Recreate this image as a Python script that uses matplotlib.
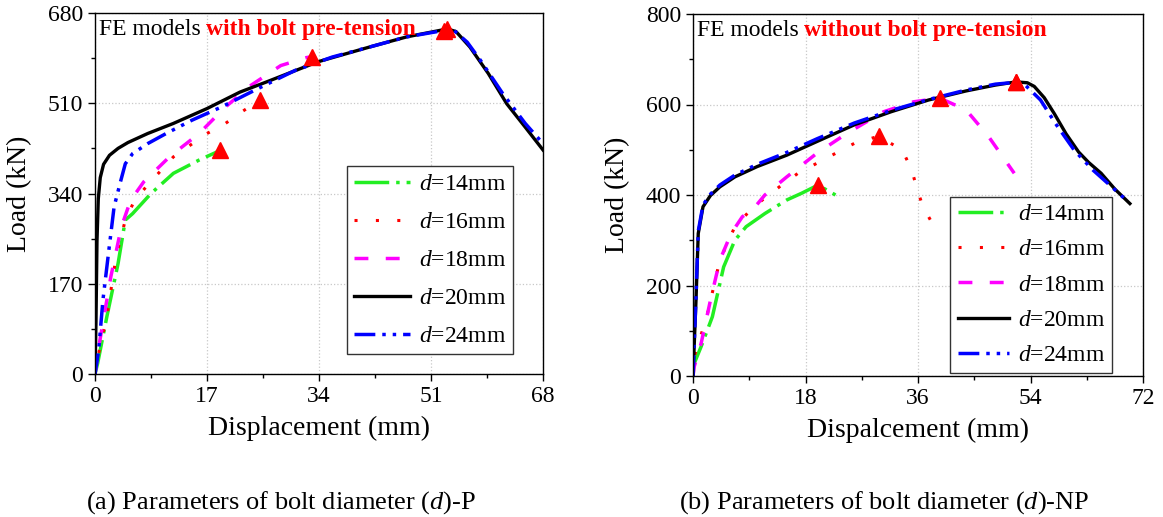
import numpy as np
import matplotlib
matplotlib.use("Agg")
import matplotlib.pyplot as plt
from matplotlib.ticker import MultipleLocator, AutoMinorLocator

plt.rcParams.update({
    "font.family": ["Liberation Serif", "DejaVu Serif"],
    "mathtext.fontset": "custom",
    "mathtext.rm": "Liberation Serif",
    "mathtext.it": "Liberation Serif:italic",
    "axes.linewidth": 1.0,
})

labels = ["$d$=14mm", "$d$=16mm", "$d$=18mm", "$d$=20mm", "$d$=24mm"]
colors = ["#22ee22", "#ff0000", "#ff00ff", "#000000", "#0000ff"]
styles = [(0, (10, 2, 1, 2)), (0, (1, 6)), (0, (4, 5)), "-", (0, (6, 2, 1, 2, 1, 2))]
widths = [2.5, 2.2, 2.5, 2.4, 2.5]

# (a) with bolt pre-tension
p_x = [
    [0, 0.4, 1.8, 3.5, 4.6, 5.7, 8.5, 11.9, 15.8, 19],
    [0, 0.56, 1.8, 3.2, 4.6, 6, 8, 11.9, 17, 19.8, 22.3, 25],
    [0, 0.67, 2.4, 4, 5.4, 7.4, 11.3, 15.8, 19.8, 23.7, 28.2, 32.1, 33],
    [0, 0.15, 0.3, 0.5, 0.8, 1.3, 2.2, 3.5, 5, 8, 11.9, 17, 22, 26, 33.8, 41.7, 47.3,
     53.5, 54.8, 56.9, 59.7, 62.5, 65.3, 68],
    [0, 0.56, 1.2, 2.1, 2.9, 3.8, 4.6, 5.7, 8, 10.8, 14.7, 19.2, 24.8, 30.4, 36, 41.7,
     47.3, 52.9, 54.5, 56.5, 58.5, 61.9, 65.3, 68],
]
p_y = [
    [0, 20, 108, 208, 290, 302, 340, 378, 403, 421],
    [0, 39, 108, 221, 290, 327, 356, 409, 453, 472, 494, 516],
    [0, 58, 183, 277, 327, 362, 409, 453, 503, 544, 581, 596, 598],
    [0, 100, 250, 330, 370, 395, 412, 425, 436, 453, 472, 500, 531, 550, 588, 616, 635,
     650, 645, 616, 566, 509, 465, 422],
    [0, 45, 139, 233, 315, 359, 396, 415, 434, 453, 478, 503, 538, 572, 597, 616,
     635, 647, 647, 625, 591, 528, 472, 434],
]

# (b) without bolt pre-tension
np_x = [
    [0, 0.2, 1.3, 3.1, 4.9, 6.7, 8.5, 11.5, 15, 17.4, 20, 22.8],
    [0, 0.2, 2.2, 4.3, 6.7, 9.7, 14.1, 16.8, 19.8, 22.8, 25.8, 29.7, 33.5, 35, 35.9, 36.8, 38.3],
    [0, 0.2, 1.3, 2.8, 4.3, 6.1, 7.9, 9.7, 11.5, 15, 19.8, 24.6, 30.5, 35.3, 39.5, 43.7,
     47.3, 51.4],
    [0, 0.48, 0.84, 1.6, 2.8, 4.3, 6.7, 10.3, 15, 19.8, 25.8, 31.7, 37.7, 43.7, 48.4,
     51.7, 53.5, 54.6, 56.2, 57.8, 59.7, 61.7, 63.3, 65.3, 67.5, 69.9],
    [0, 0.48, 0.84, 1.6, 2.8, 4.3, 6.7, 10.3, 15, 19.8, 25.8, 31.7, 37.7, 43.7, 48.4,
     51.6, 53, 55.6, 58, 61, 64, 67, 69.3],
]
np_y = [
    [0, 28, 65, 131, 241, 300, 330, 359, 389, 404, 422, 400],
    [0, 43, 131, 256, 330, 374, 421, 448, 470, 492, 514, 530, 499, 455, 411, 374, 337],
    [0, 21, 72, 168, 256, 315, 352, 370, 400, 440, 492, 536, 584, 606, 614, 588, 529, 448],
    [0, 168, 315, 374, 399, 418, 440, 463, 488, 518, 555, 584, 610, 630, 643, 650, 648,
     640, 615, 580, 535, 495, 472, 448, 413, 381],
    [0, 175, 320, 378, 402, 422, 444, 468, 494, 524, 559, 587, 611, 632, 645, 649, 645,
     610, 558, 499, 455, 418, 389],
]

fig = plt.figure(figsize=(11.63, 5.17), dpi=100)
W, H = 1163, 517
ax1 = fig.add_axes([95 / W, 1 - 374 / H, 448 / W, 361 / H])
ax2 = fig.add_axes([693 / W, 1 - 376 / H, 450 / W, 362 / H])


def draw(ax, xs, ys, xmax, xstep, ymax, ystep, xlabel, red_text, leg_anchor, spacing, hl):
    for x, y, c, ls, lw, lab in zip(xs, ys, colors, styles, widths, labels):
        ax.plot(x, y, color=c, linestyle=ls, linewidth=lw, label=lab)
    for x, y in zip(xs, ys):
        i = int(np.argmax(y))
        ax.plot(x[i], y[i], marker="^", color="red", markersize=11, linestyle="none",
                zorder=5)
    ax.set_xlim(0, xmax)
    ax.set_ylim(0, ymax)
    ax.xaxis.set_major_locator(MultipleLocator(xstep))
    ax.yaxis.set_major_locator(MultipleLocator(ystep))
    ax.xaxis.set_minor_locator(AutoMinorLocator(2))
    ax.yaxis.set_minor_locator(AutoMinorLocator(2))
    ax.tick_params(which="major", direction="out", length=5, width=1, labelsize=17)
    ax.tick_params(which="minor", direction="out", length=3, width=1)
    ax.grid(True, which="major", linestyle=":", color="#c8c8c8", linewidth=0.9)
    ax.set_xlabel(xlabel, fontsize=20)
    ax.set_ylabel("Load (kN)", fontsize=20)
    ax.yaxis.set_label_coords(-0.14, 0.5)
    ax.xaxis.set_label_coords(0.5, -0.115)
    t1 = ax.text(0.008, 0.94, "FE models", transform=ax.transAxes, fontsize=17,
                 va="baseline", ha="left")
    ax.annotate(red_text, xy=(1, 0), xycoords=t1, xytext=(4, 0),
                textcoords="offset points", fontsize=17, color="red",
                fontweight="bold", va="bottom", ha="left")
    leg = ax.legend(loc="lower right", bbox_to_anchor=leg_anchor, fontsize=17,
                    handlelength=hl, handletextpad=0.35, labelspacing=spacing,
                    borderpad=0.3, borderaxespad=0, fancybox=False, framealpha=1)
    leg.get_frame().set_edgecolor("#333333")
    leg.get_frame().set_linewidth(1.0)


draw(ax1, p_x, p_y, 68, 17, 680, 170, "Displacement (mm)",
     "with bolt pre-tension", (0.933, 0.055), 0.70, 2.4)
draw(ax2, np_x, np_y, 72, 18, 800, 200, "Dispalcement (mm)",
     "without bolt pre-tension", (0.931, 0.008), 0.58, 2.2)

fig.text(281 / W, 1 - 503 / H, "(a) Parameters of bolt diameter ($d$)-P",
         ha="center", va="center", fontsize=19)
fig.text(884 / W, 1 - 503 / H, "(b) Parameters of bolt diameter ($d$)-NP",
         ha="center", va="center", fontsize=19)

fig.savefig("out.png", dpi=100)
